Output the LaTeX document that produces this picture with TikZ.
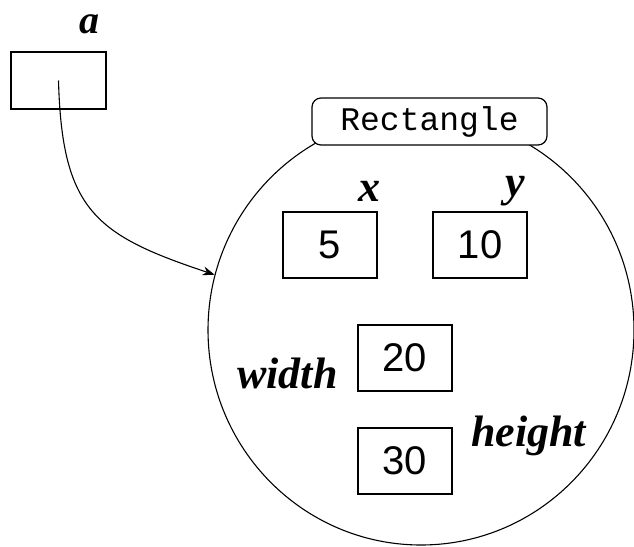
\documentclass[tikz,border=0pt]{standalone}
\usepackage{fontspec}
\setmainfont{Liberation Serif}
\newfontfamily\valfont{Liberation Sans}
\newfontfamily\codefont{Liberation Mono}
\usetikzlibrary{shapes.geometric,arrows.meta}
\tikzset{
  varbox/.style={draw, line width=1.3pt, minimum width=94pt, minimum height=66pt, inner sep=0pt,
    font=\valfont\fontsize{40}{46}\selectfont},
  varlabel/.style={anchor=base, inner sep=0pt, font=\bfseries\itshape\fontsize{44}{50}\selectfont},
}
\begin{document}
\begin{tikzpicture}[x=1pt,y=-1pt]
\useasboundingbox (0,0) rectangle (634,546);
% object ellipse
\node[ellipse, draw, line width=1.1pt, minimum width=426pt, minimum height=430pt, inner sep=0pt] (obj) at (421,330) {};
% class label
\node[draw, fill=white, line width=1.2pt, rounded corners=9pt, minimum width=235pt, minimum height=47pt, inner sep=0pt,
  font=\codefont\fontsize{33}{38}\selectfont] (cls) at (429.5,121.5) {Rectangle};
% variable a
\node[draw, line width=1.3pt, minimum width=95pt, minimum height=57pt, inner sep=0pt] (a) at (58.5,80.5) {};
\node[varlabel, font=\bfseries\itshape\fontsize{40}{46}\selectfont] (la) at (89,33) {a};
% fields
\node[varbox] (bx) at (330,245) {5};
\node[varbox] (by) at (480,245) {10};
\node[varbox] (bw) at (405,358) {20};
\node[varbox] (bh) at (405,461) {30};
\node[varlabel] (lx) at (369,201) {x};
\node[varlabel] (ly) at (515,196) {y};
\node[varlabel, anchor=base west] (lw) at (237,388) {width};
\node[varlabel, anchor=base west] (lh) at (471,446) {height};
% reference arrow
\draw[line width=1.1pt, -{Stealth[length=12pt,width=9pt]}] (a.center) .. controls (62,210) and (95,235) .. (obj.165);
\end{tikzpicture}
\end{document}
